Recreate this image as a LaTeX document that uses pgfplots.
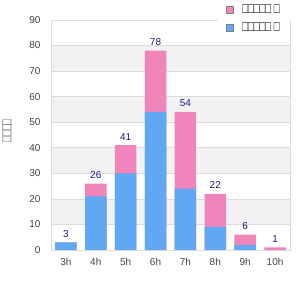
\documentclass[border=0pt]{standalone}
\usepackage{fontspec}
\setmainfont{Liberation Sans}
\usepackage{graphicx}
\usepackage{pgfplots}
\pgfplotsset{compat=1.18}
\usepackage{pgfplotstable}
\definecolor{barblue}{HTML}{60A8F4}
\definecolor{barpink}{HTML}{F284BC}
\definecolor{lbl}{HTML}{1A1A8A}
\definecolor{tickc}{HTML}{444444}
\definecolor{band}{HTML}{F2F2F2}
\definecolor{gridc}{HTML}{DCDCDC}
\newcommand\tofu[1]{\scalebox{0.95}[1.45]{#1}}
\pgfplotstableread{
x blue total
0 3 3
1 21 26
2 30 41
3 54 78
4 24 54
5 9 22
6 2 6
7 0 1
}\data
\begin{document}
\begin{tikzpicture}[x=1pt,y=1pt]
\useasboundingbox (0,0) rectangle (300,300);
\fill[band] (51,75.556) rectangle (290,101.111);
\fill[band] (51,126.667) rectangle (290,152.222);
\fill[band] (51,177.778) rectangle (290,203.333);
\fill[band] (51,228.889) rectangle (290,254.444);
\begin{axis}[
  at={(51pt,50pt)}, anchor=south west,
  scale only axis, width=239pt, height=230pt,
  ybar, bar width=21.5pt, bar shift=0pt,
  xmin=-0.5, xmax=7.5, ymin=0, ymax=90,
  xtick={0,...,7}, xticklabels={3h,4h,5h,6h,7h,8h,9h,10h},
  ytick={0,10,...,90},
  ymajorgrids, grid style={gridc, line width=0.6pt},
  axis line style={gridc, line width=0.8pt},
  major tick length=0pt,
  tick label style={font=\fontsize{10}{12}\selectfont, text=tickc},
  /pgf/number format/assume math mode=true,
  yticklabel style={xshift=-7pt},
  xticklabel style={yshift=-5pt},
  legend style={at={(0.699,1.087)}, anchor=north west, draw=none, fill=white,
    font=\fontsize{10}{12}\selectfont, inner xsep=8pt, inner ysep=2.5pt,
    row sep=4pt},
  legend cell align=left,
  legend image code/.code={\draw[#1, draw=gray] (0pt,-3.5pt) rectangle (7pt,3.5pt); \path (14pt,0pt);},
]
\addplot[fill=barpink, draw=none, nodes near coords, point meta=y,
  every node near coord/.style={text=lbl, font=\fontsize{10}{12}\selectfont, yshift=1.5pt}]
  table[x=x,y=total]{\data};
\addlegendentry{\tofu{□□□□□ □}}
\addplot[fill=barblue, draw=none] table[x=x,y=blue]{\data};
\addlegendentry{\tofu{□□□□□ □}}
\end{axis}
\node[rotate=90, font=\fontsize{10}{12}\selectfont, text=tickc] at (7,169) {\tofu{□□□□}};
\end{tikzpicture}
\end{document}
